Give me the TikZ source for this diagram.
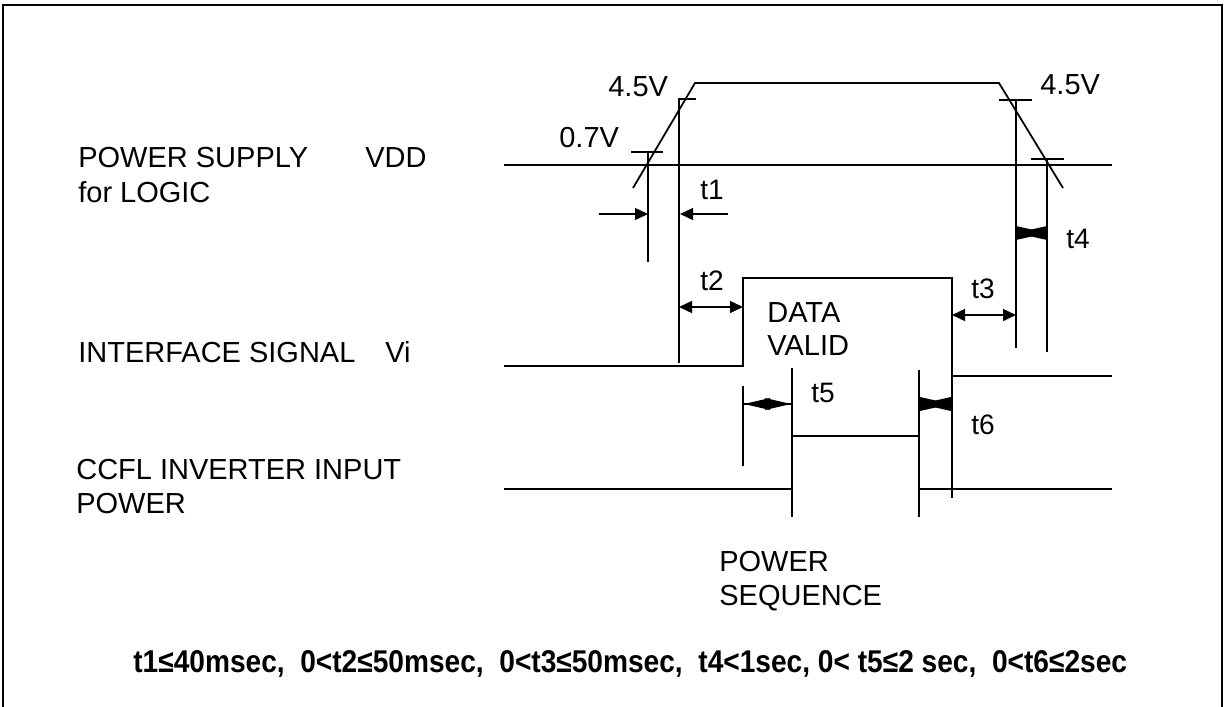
\documentclass[tikz,border=0pt]{standalone}
\usepackage{fontspec}
\setmainfont{Liberation Sans}
\usetikzlibrary{arrows.meta}
\newcommand\tiebow[5]{%
  \fill (#1,#3) -- ++(#4,-#5) -- ++(0,2*#5) -- cycle;
  \fill (#2,#3) -- ++(-#4,-#5) -- ++(0,2*#5) -- cycle;
  \draw[dimline] (#1,#3) -- (#2,#3);}
\begin{document}
\begin{tikzpicture}[x=0.02cm,y=-0.02cm,
  frame/.style={line width=1.5pt},
  sig/.style={line width=1pt},
  dimline/.style={line width=0.9pt},
  arr/.style={dimline,-{Triangle[length=7.4pt,width=6.8pt]}},
  darr/.style={dimline,{Triangle[length=7.4pt,width=6.8pt]}-{Triangle[length=7.4pt,width=6.8pt]}},
  lbl/.style={font=\fontsize{16.5}{20}\selectfont,inner sep=0pt,anchor=base west},
  vlbl/.style={font=\fontsize{16.5}{19}\selectfont,inner sep=0pt,anchor=base west},
  tlbl/.style={font=\fontsize{16}{18}\selectfont,inner sep=0pt,anchor=base},
  note/.style={font=\bfseries\fontsize{16}{19}\selectfont,inner sep=0pt,anchor=base west}]
\useasboundingbox (0,0) rectangle (1225,707);
% frame (bottom edge outside the picture)
\draw[frame] (3,707) -- (3,5) -- (1222,5) -- (1222,707);

% ---------- labels on the left ----------
\node[lbl] (ps) at (78,167) {POWER SUPPLY};
\node[lbl] (vdd) at (365,167) {VDD};
\node[lbl] (fl) at (78,202) {for LOGIC};
\node[lbl] (ifs) at (78,362) {INTERFACE SIGNAL};
\node[lbl] (vi) at (385,362) {Vi};
\node[lbl] (ccfl) at (76,479) {CCFL INVERTER INPUT};
\node[lbl] (pw) at (76,513) {POWER};

% ---------- VDD ----------
\draw[sig] (504,165) -- (1112,165);
\draw[sig] (633,188) -- (695,83) -- (999,83) -- (1063,188);
% 0.7V / 4.5V markers rising edge
\draw[dimline] (631,152) -- (663,152);
\draw[dimline] (648,152) -- (648,262);
\draw[dimline] (696,99) -- (679,99) -- (679,363);
% falling edge markers
\draw[dimline] (999,100) -- (1032,100);
\draw[dimline] (1016,100) -- (1016,348);
\draw[dimline] (1031,159) -- (1064,159);
\draw[dimline] (1047,159) -- (1047,352);
\node[vlbl] (v07) at (559,147) {0.7V};
\node[vlbl] (v45a) at (608,96) {4.5V};
\node[vlbl] (v45b) at (1040,94) {4.5V};
% t1
\draw[arr] (599,214) -- (648,214);
\draw[arr] (728,214) -- (680,214);
\node[tlbl] (t1) at (712,199) {t1};
% t4
\tiebow{1016}{1047}{233}{31}{7}
\node[tlbl] (t4) at (1078,248) {t4};

% ---------- Interface signal ----------
\draw[sig] (504,366) -- (743,366) -- (743,278) -- (952,278) -- (952,376) -- (1112,376);
\draw[dimline] (952,376) -- (952,498);
\draw[dimline] (743,386) -- (743,466);
\draw[darr] (679,307) -- (743,307);
\node[tlbl] (t2) at (712,290) {t2};
\draw[darr] (952,315) -- (1016,315);
\node[tlbl] (t3) at (983,298) {t3};
\node[lbl] (data) at (767,322) {DATA};
\node[lbl] (valid) at (767,355) {VALID};

% ---------- CCFL ----------
\draw[sig] (504,489) -- (792,489) -- (792,436) -- (919,436) -- (919,489) -- (1112,489);
\draw[dimline] (792,368) -- (792,517);
\draw[dimline] (919,370) -- (919,517);
\tiebow{744}{791}{404}{26}{6}
\node[tlbl] (t5) at (823,402) {t5};
\tiebow{920}{951}{404}{31}{7}
\node[tlbl] (t6) at (983,434) {t6};

\node[lbl] (pseq1) at (719,571) {POWER};
\node[lbl] (pseq2) at (719,605) {SEQUENCE};

\node[note] (cond) at (133,672) {\scalebox{1}[1.12]{t1≤40msec,\ \ 0<t2≤50msec,\ \ 0<t3≤50msec,\ \ t4<1sec, 0< t5≤2 sec,\ \ 0<t6≤2sec}};
\end{tikzpicture}
\end{document}
